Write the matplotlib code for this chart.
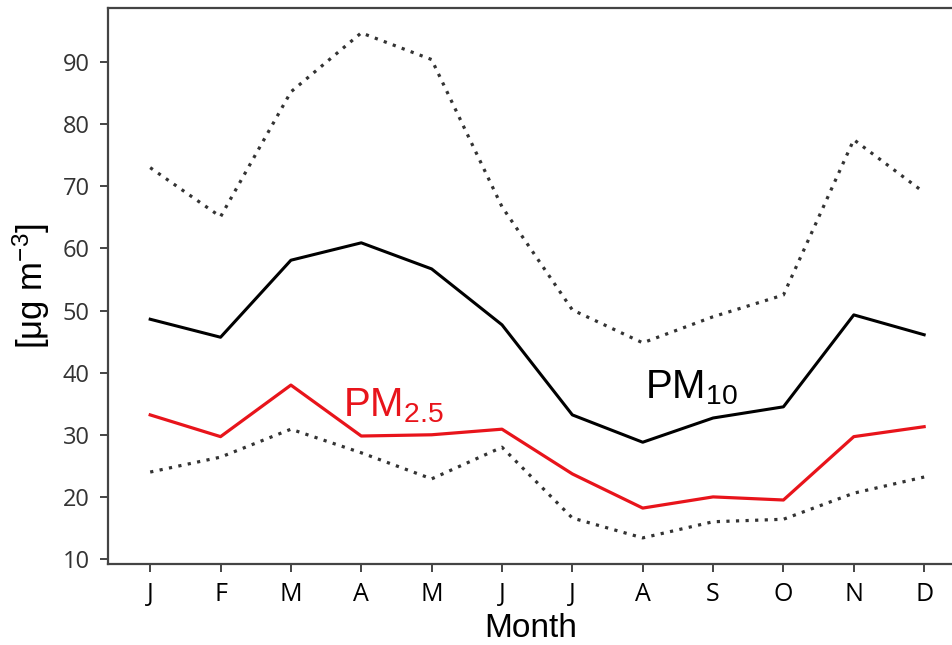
import numpy as np
import matplotlib
matplotlib.use("Agg")
import matplotlib.pyplot as plt

# Monthly values
months = ["J", "F", "M", "A", "M", "J", "J", "A", "S", "O", "N", "D"]
pm10 = [48.6, 45.7, 58.1, 60.9, 56.7, 47.7, 33.2, 28.8, 32.7, 34.5, 49.3, 46.1]
pm25 = [33.2, 29.7, 38.0, 29.8, 30.0, 30.9, 23.7, 18.2, 20.0, 19.5, 29.7, 31.3]
upper = [73.0, 65.1, 85.2, 94.7, 90.4, 66.7, 50.1, 44.8, 49.0, 52.5, 77.5, 69.0]
lower = [24.0, 26.4, 30.9, 27.1, 22.9, 28.0, 16.6, 13.4, 16.0, 16.4, 20.6, 23.2]
yticks = [10, 20, 30, 40, 50, 60, 70, 80, 90]

plt.rcParams['mathtext.fontset'] = 'custom'
plt.rcParams['mathtext.rm'] = 'Liberation Sans'
plt.rcParams['mathtext.it'] = 'Liberation Sans'

x = np.arange(len(months))
fig = plt.figure(figsize=(9.53, 6.45), dpi=100)
ax = fig.add_axes([0.1133, 0.1256, 0.8867, 0.862])

dot = (0, (1, 2))
ax.plot(x, upper, color="#333333", lw=2.3, linestyle=dot)
ax.plot(x, lower, color="#333333", lw=2.3, linestyle=dot)
ax.plot(x, pm10, color="black", lw=2.2)
ax.plot(x, pm25, color="#e8141b", lw=2.3)

ax.text(2.74, 32.9, r"PM$_{\mathrm{2.5}}$", color="#e8141b", fontsize=29,
        family="Liberation Sans", va="baseline")
ax.text(7.03, 35.9, r"PM$_{\mathrm{10}}$", color="black", fontsize=29,
        family="Liberation Sans", va="baseline")

ax.set_xlim(-0.6, 11.41)
ax.set_ylim(9.2, 98.7)
ax.set_xticks(x)
ax.set_xticklabels(months, family="Open Sans", fontsize=18)
ax.set_yticks(yticks)
ax.set_yticklabels([str(v) for v in yticks], family="Open Sans", fontsize=17,
                   color="#333333")

for s in ["left", "bottom", "top"]:
    ax.spines[s].set_color("#444444")
    ax.spines[s].set_linewidth(1.6)
ax.spines["right"].set_visible(False)
ax.tick_params(length=6, width=1.4, color="#444444")
ax.tick_params(axis="x", pad=7)
ax.tick_params(axis="y", pad=7)

ax.set_xlabel("Month", family="Liberation Sans", fontsize=24, labelpad=4)
ax.set_ylabel(r"[$\mathrm{\mu}$g m$^{\mathrm{-3}}$]", family="Liberation Sans",
              fontsize=25, labelpad=8)

fig.savefig("out.png", dpi=100)
plt.close(fig)
